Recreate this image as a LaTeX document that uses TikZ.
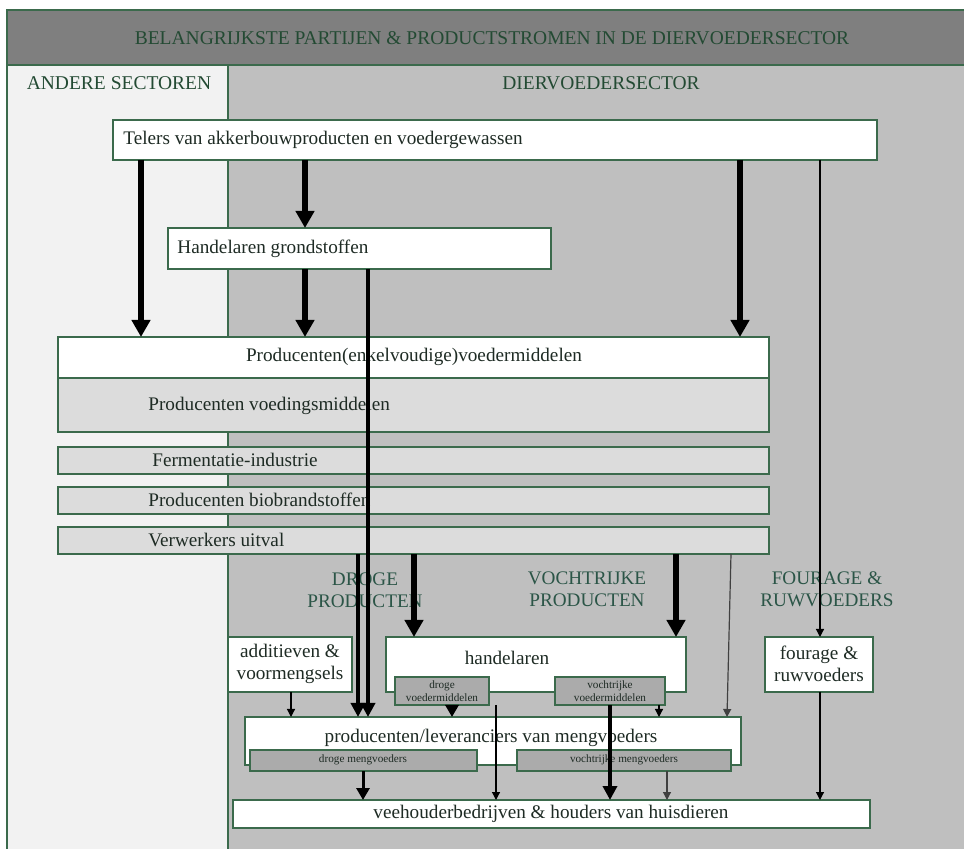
\documentclass[tikz,border=0pt]{standalone}
\usepackage{fontspec}
\setmainfont{Liberation Serif}
\usetikzlibrary{fit,arrows.meta}
\definecolor{bggreen}{HTML}{3B6A4C}
\definecolor{titlegray}{HTML}{7F7F7F}
\definecolor{leftbg}{HTML}{F2F2F2}
\definecolor{rightbg}{HTML}{BFBFBF}
\definecolor{lightbox}{HTML}{DCDCDC}
\definecolor{smallbox}{HTML}{ABABAB}
\definecolor{titletext}{HTML}{234A33}
\definecolor{labeltext}{HTML}{2B5547}
\definecolor{boxtext}{HTML}{1E2B24}
\definecolor{thingray}{HTML}{404040}
\begin{document}
\begin{tikzpicture}[x=0.5pt,y=-0.5pt,
  box/.style={draw=bggreen, line width=0.6pt, inner sep=0pt, outer sep=0pt},
  band/.style={draw=bggreen, line width=0.7pt, inner sep=0pt, outer sep=0pt},
  txt/.style={inner sep=0pt, text=boxtext, font=\fontsize{9.6}{11.2}\selectfont},
  ctxt/.style={txt, align=center},
  tinytxt/.style={inner sep=0pt, text=boxtext, align=center, font=\fontsize{5.6}{6.8}\selectfont},
  hdr/.style={inner sep=0pt, text=titletext, font=\fontsize{9.75}{11}\selectfont},
  lbl/.style={inner sep=0pt, text=labeltext, align=center, font=\fontsize{9.6}{11}\selectfont},
  bigarrow/.style={line width=2.75pt, -{Triangle[length=8.5pt,width=9pt]}},
  midarrow/.style={line width=2.1pt, -{Triangle[length=7pt,width=7pt]}},
  medarrow/.style={line width=1.5pt, -{Triangle[length=6pt,width=6.5pt]}},
  thinarrow/.style={line width=0.6pt, -{Triangle[length=4pt,width=4pt]}},
]
\useasboundingbox (0,0) rectangle (964,849);
\clip (0,0) rectangle (964,849);

% background bands
\node[band, fill=leftbg, fit={(7,65)(228,880)}] (leftcol) {};
\node[band, fill=rightbg, fit={(228,65)(990,880)}] (rightcol) {};
\node[band, fill=titlegray, fit={(7,10)(990,65)}] (titleband) {};

\node[hdr] (title) at (492,38) {BELANGRIJKSTE PARTIJEN \& PRODUCTSTROMEN IN DE DIERVOEDERSECTOR};
\node[hdr] (andere) at (119,83) {ANDERE SECTOREN};
\node[hdr] (dvs) at (601,83) {DIERVOEDERSECTOR};

% boxes
\node[box, fill=white, fit={(113,120)(877,160)}] (telers) {};
\node[txt, anchor=west] (telerst) at (123,140) {Telers van akkerbouwproducten en voedergewassen};

\node[box, fill=white, fit={(168,228)(551,269)}] (hgrond) {};
\node[txt, anchor=west] (hgrondt) at (177,249) {Handelaren grondstoffen};

\node[box, fill=white, fit={(58,337)(769,378)}] (prod) {};
\node[txt] (prodt) at (414,357) {Producenten(enkelvoudige)voedermiddelen};

\node[box, fill=lightbox, fit={(58,378)(769,432)}] (voeding) {};
\node[txt, anchor=west] (voedingt) at (148,406) {Producenten voedingsmiddelen};

\node[box, fill=lightbox, fit={(58,447)(769,474)}] (ferm) {};
\node[txt, anchor=west] (fermt) at (152,460) {Fermentatie-industrie};

\node[box, fill=lightbox, fit={(58,487)(769,514)}] (bio) {};
\node[txt, anchor=west] (biot) at (148,500) {Producenten biobrandstoffen};

\node[box, fill=lightbox, fit={(58,527)(769,554)}] (verw) {};
\node[txt, anchor=west] (verwt) at (148,540) {Verwerkers uitval};

% flow labels
\node[lbl] (droge) at (365,590) {DROGE\\PRODUCTEN};
\node[lbl] (vocht) at (587,589) {VOCHTRIJKE\\PRODUCTEN};
\node[lbl] (fourl) at (827,589) {FOURAGE \&\\RUWVOEDERS};

% lower boxes
\node[box, fill=white, fit={(228,637)(352,692)}] (addit) {};
\node[ctxt] (additt) at (290,664) {additieven \&\\voormengsels};

\node[box, fill=white, fit={(386,637)(686,692)}] (handel) {};
\node[txt] (handelt) at (507,658) {handelaren};

\node[box, fill=smallbox, fit={(395,677)(489,705)}] (drogevm) {};
\node[tinytxt] (drogevmt) at (442,691) {droge\\voedermiddelen};

\node[box, fill=smallbox, fit={(555,677)(665,705)}] (vochtvm) {};
\node[tinytxt] (vochtvmt) at (610,691) {vochtrijke\\voedermiddelen};

\node[box, fill=white, fit={(765,637)(873,692)}] (fourage) {};
\node[ctxt] (fouraget) at (819,664) {fourage \&\\ruwvoeders};

\node[box, fill=white, fit={(245,717)(741,765)}] (meng) {};
\node[txt] (mengt) at (491,738) {producenten/leveranciers van mengvoeders};

\node[box, fill=smallbox, fit={(250,750)(477,771)}] (drogemeng) {};
\node[tinytxt] (drogemengt) at (363,760) {droge mengvoeders};

\node[box, fill=smallbox, fit={(517,750)(731,771)}] (vochtmeng) {};
\node[tinytxt] (vochtmengt) at (624,760) {vochtrijke mengvoeders};

\node[box, fill=white, fit={(233,800)(870,828)}] (veeh) {};
\node[txt] (veeht) at (551,814) {veehouderbedrijven \& houders van huisdieren};

% column helpers
\foreach \c in {141,291,305,358,363,368,414,452,496,610,659,667,676,727,731,740,820}
  \coordinate (c\c) at (\c,0);

% arrows
\draw[bigarrow] (telers.south -| c141) -- (prod.north -| c141);
\draw[bigarrow] (telers.south -| c305) -- (hgrond.north -| c305);
\draw[bigarrow] (telers.south -| c740) -- (prod.north -| c740);
\draw[bigarrow] (hgrond.south -| c305) -- (prod.north -| c305);
\draw[midarrow] (hgrond.south -| c368) -- (meng.north -| c368);
\draw[midarrow] (verw.south -| c358) -- (meng.north -| c358);
\draw[bigarrow] (verw.south -| c414) -- (handel.north -| c414);
\draw[bigarrow] (verw.south -| c676) -- (handel.north -| c676);
\draw[thinarrow, thingray] (verw.south -| c731) -- (meng.north -| c727);
\draw[thinarrow] (telers.south -| c820) -- (fourage.north -| c820);
\draw[thinarrow] (fourage.south -| c820) -- (veeh.north -| c820);
\draw[thinarrow] (addit.south -| c291) -- (meng.north -| c291);
\draw[medarrow] (drogevm.south -| c452) -- (meng.north -| c452);
\draw[thinarrow] (vochtvm.south -| c659) -- (meng.north -| c659);
\draw[thinarrow] (drogevm.south -| c496) -- (veeh.north -| c496);
\draw[midarrow] (vochtvm.south -| c610) -- (veeh.north -| c610);
\draw[medarrow] (drogemeng.south -| c363) -- (veeh.north -| c363);
\draw[thinarrow, thingray] (vochtmeng.south -| c667) -- (veeh.north -| c667);
\end{tikzpicture}
\end{document}
